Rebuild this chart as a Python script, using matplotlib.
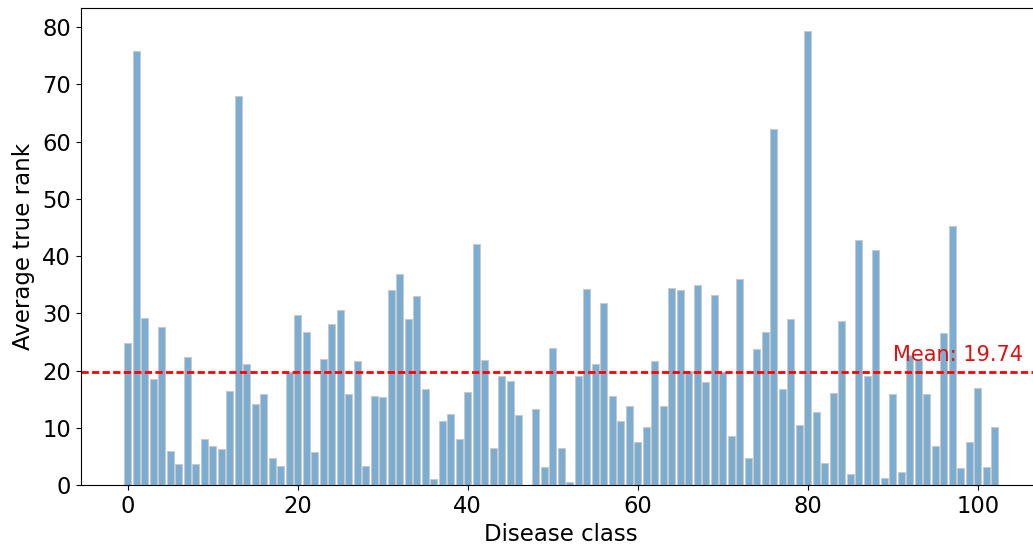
import matplotlib
matplotlib.use("Agg")
import matplotlib.pyplot as plt
import numpy as np

disease_class = list(range(103))
avg_true_rank = [
    24.9, 75.8, 29.2, 18.6, 27.6, 5.9, 3.6, 22.3, 3.7, 8.0,
    6.8, 6.3, 16.4, 68.0, 21.2, 14.2, 15.9, 4.8, 3.4, 19.8,
    29.7, 26.7, 5.7, 22.1, 28.1, 30.5, 15.9, 21.7, 3.3, 15.6,
    15.4, 34.1, 36.9, 29.1, 33.0, 16.7, 1.1, 11.1, 12.4, 8.0,
    16.3, 42.1, 21.9, 6.5, 19.0, 18.2, 12.2, 0.0, 13.2, 3.1,
    24.0, 6.4, 0.6, 19.0, 34.2, 21.2, 31.8, 15.6, 11.1, 13.8,
    7.5, 10.2, 21.7, 13.8, 34.4, 34.1, 20.0, 34.9, 18.0, 33.2,
    19.8, 8.6, 36.0, 4.7, 23.7, 26.7, 62.2, 16.7, 29.0, 10.4,
    79.4, 12.8, 3.8, 16.0, 28.6, 1.9, 42.8, 19.1, 41.1, 1.3,
    15.9, 2.2, 22.7, 21.9, 15.9, 6.8, 26.5, 45.2, 3.0, 7.6,
    16.9, 3.1, 10.1,
]
mean_rank = 19.74

W, H = 1033, 548
fig = plt.figure(figsize=(W / 100, H / 100), dpi=100)
left_px, right_px, top_px, bottom_px = 80.6, 1041.8, 8.0, 485.0
ax = fig.add_axes([left_px / W, (H - bottom_px) / H,
                   (right_px - left_px) / W, (bottom_px - top_px) / H])

ax.bar(disease_class, avg_true_rank, width=0.8, color='#79add2',
       edgecolor='#c9c9c9', linewidth=0.8)
ax.axhline(mean_rank, color='red', linestyle=(0, (2.6, 1.2)), linewidth=2)
ax.text(90, mean_rank + 1.2, f"Mean: {mean_rank:.2f}", color='#e01010',
        fontsize=15, va='bottom', ha='left')

ax.set_xlabel("Disease class", fontsize=16.5)
ax.set_ylabel("Average true rank", fontsize=16.5, labelpad=5)
ax.tick_params(axis='both', labelsize=16.3)
ax.set_xticks([0, 20, 40, 60, 80, 100])
ax.set_yticks([0, 10, 20, 30, 40, 50, 60, 70, 80])

fig.savefig("out.png", dpi=100)
